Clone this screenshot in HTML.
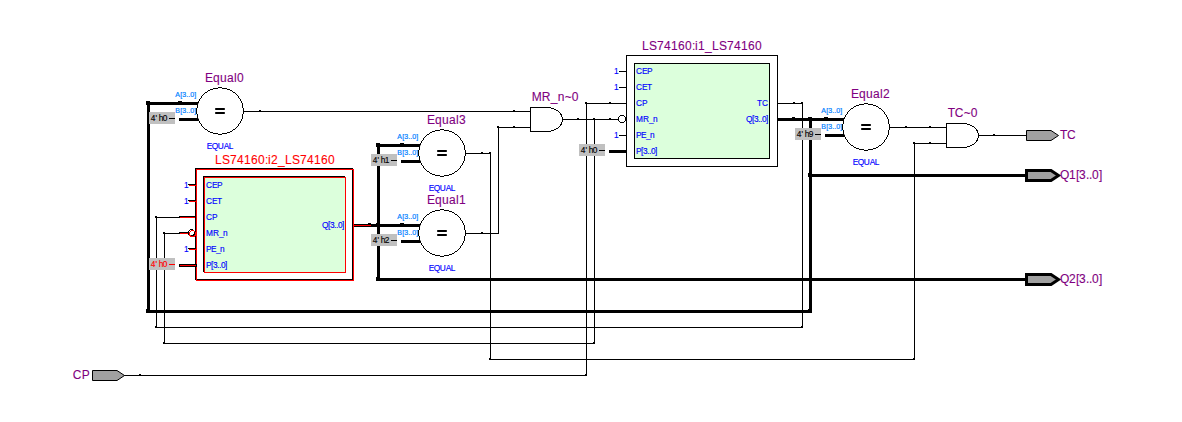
<!DOCTYPE html>
<html><head><meta charset="utf-8">
<style>
html,body{margin:0;padding:0;background:#fff;}
svg{display:block;font-family:"Liberation Sans",sans-serif;}
text{stroke-width:.15px}
.t{fill:#800080;stroke:#800080;font-size:12px;stroke-width:.1px}
.p{fill:#0000ff;stroke:#0000ff;font-size:8.3px}
.e{fill:#0000ff;stroke:#0000ff;font-size:8.3px}
.s{fill:#0080ff;stroke:#0080ff;font-size:7px;stroke-width:.2px}
.k{fill:#000;stroke:#000;font-size:8.3px;stroke-width:.15px}
</style></head><body>
<svg width="1182" height="422" viewBox="0 0 1182 422">
<rect width="1182" height="422" fill="#fff"/>
<rect x="244" y="111" width="287" height="1" fill="#000"/>
<rect x="124" y="375" width="463" height="1" fill="#000"/>
<rect x="586" y="103" width="1" height="273" fill="#000"/>
<rect x="586" y="103" width="41" height="1" fill="#000"/>
<rect x="156" y="217" width="41" height="1" fill="#000"/>
<rect x="156" y="217" width="1" height="111" fill="#000"/>
<rect x="156" y="327" width="647" height="1" fill="#000"/>
<rect x="802" y="103" width="1" height="225" fill="#000"/>
<rect x="778" y="103" width="25" height="1" fill="#000"/>
<rect x="164" y="233" width="25" height="1" fill="#000"/>
<rect x="164" y="233" width="1" height="111" fill="#000"/>
<rect x="164" y="343" width="431" height="1" fill="#000"/>
<rect x="594" y="119" width="1" height="225" fill="#000"/>
<rect x="563" y="119" width="58" height="1" fill="#000"/>
<rect x="466" y="153" width="25" height="1" fill="#000"/>
<rect x="490" y="153" width="1" height="207" fill="#000"/>
<rect x="490" y="359" width="425" height="1" fill="#000"/>
<rect x="914" y="143" width="1" height="217" fill="#000"/>
<rect x="914" y="143" width="33" height="1" fill="#000"/>
<rect x="466" y="233" width="33" height="1" fill="#000"/>
<rect x="498" y="127" width="1" height="107" fill="#000"/>
<rect x="498" y="127" width="33" height="1" fill="#000"/>
<rect x="890" y="127" width="57" height="1" fill="#000"/>
<rect x="979" y="135" width="48" height="1" fill="#000"/>
<rect x="778" y="118" width="66" height="3" fill="#000"/>
<rect x="809" y="119" width="3" height="194" fill="#000"/>
<rect x="147" y="310" width="665" height="3" fill="#000"/>
<rect x="147" y="102" width="3" height="211" fill="#000"/>
<rect x="147" y="102" width="52" height="3" fill="#000"/>
<rect x="810" y="174" width="217" height="3" fill="#000"/>
<rect x="377" y="144" width="3" height="137" fill="#000"/>
<rect x="377" y="144" width="44" height="3" fill="#000"/>
<rect x="377" y="224" width="44" height="3" fill="#000"/>
<rect x="377" y="278" width="650" height="3" fill="#000"/>
<rect x="146" y="101" width="4" height="4" fill="#000"/>
<rect x="376" y="143" width="4" height="4" fill="#000"/>
<rect x="376" y="277" width="4" height="4" fill="#000"/>
<rect x="808" y="117" width="4" height="4" fill="#000"/>
<rect x="808" y="173" width="4" height="4" fill="#000"/>
<rect x="376" y="223" width="4" height="4" fill="#000"/>
<rect x="146" y="309" width="4" height="4" fill="#000"/>
<rect x="808" y="309" width="4" height="4" fill="#000"/>
<rect x="792" y="117" width="3" height="1" fill="#000"/>
<rect x="179" y="118" width="20" height="3" fill="#000"/>
<circle cx="220" cy="111" r="23" fill="#fff"/>
<path transform="translate(220 111)" d="M-2 -24h4v1h-4zM-7 -23h5v1h-5zM2 -23h5v1h-5zM-10 -22h3v1h-3zM7 -22h3v1h-3zM-12 -21h2v1h-2zM10 -21h2v1h-2zM-13 -20h1v1h-1zM12 -20h1v1h-1zM-15 -19h2v1h-2zM13 -19h2v1h-2zM-16 -18h1v1h-1zM15 -18h1v1h-1zM-17 -17h1v1h-1zM16 -17h1v1h-1zM-18 -16h1v1h-1zM17 -16h1v1h-1zM-19 -15h1v1h-1zM18 -15h1v1h-1zM-19 -14h1v1h-1zM18 -14h1v1h-1zM-20 -13h1v1h-1zM19 -13h1v1h-1zM-21 -12h1v1h-1zM20 -12h1v1h-1zM-21 -11h1v1h-1zM20 -11h1v1h-1zM-22 -10h1v1h-1zM21 -10h1v1h-1zM-22 -9h1v1h-1zM21 -9h1v1h-1zM-23 -8h1v1h-1zM22 -8h1v1h-1zM-23 -7h1v1h-1zM22 -7h1v1h-1zM-23 -6h1v1h-1zM22 -6h1v1h-1zM-23 -5h1v1h-1zM22 -5h1v1h-1zM-23 -4h1v1h-1zM22 -4h1v1h-1zM-24 -3h1v1h-1zM23 -3h1v1h-1zM-24 -2h1v1h-1zM23 -2h1v1h-1zM-24 -1h1v1h-1zM23 -1h1v1h-1zM-24 0h1v1h-1zM23 0h1v1h-1zM-24 1h1v1h-1zM23 1h1v1h-1zM-24 2h1v1h-1zM23 2h1v1h-1zM-23 3h1v1h-1zM22 3h1v1h-1zM-23 4h1v1h-1zM22 4h1v1h-1zM-23 5h1v1h-1zM22 5h1v1h-1zM-23 6h1v1h-1zM22 6h1v1h-1zM-23 7h1v1h-1zM22 7h1v1h-1zM-22 8h1v1h-1zM21 8h1v1h-1zM-22 9h1v1h-1zM21 9h1v1h-1zM-21 10h1v1h-1zM20 10h1v1h-1zM-21 11h1v1h-1zM20 11h1v1h-1zM-20 12h1v1h-1zM19 12h1v1h-1zM-19 13h1v1h-1zM18 13h1v1h-1zM-19 14h1v1h-1zM18 14h1v1h-1zM-18 15h1v1h-1zM17 15h1v1h-1zM-17 16h1v1h-1zM16 16h1v1h-1zM-16 17h1v1h-1zM15 17h1v1h-1zM-15 18h2v1h-2zM13 18h2v1h-2zM-13 19h1v1h-1zM12 19h1v1h-1zM-12 20h2v1h-2zM10 20h2v1h-2zM-10 21h3v1h-3zM7 21h3v1h-3zM-7 22h5v1h-5zM2 22h5v1h-5zM-2 23h4v1h-4z" fill="#000" shape-rendering="crispEdges"/>
<rect x="215.2" y="108" width="9.6" height="2" fill="#000"/>
<rect x="215.2" y="112" width="9.6" height="2" fill="#000"/>
<text x="205 213 220 227 234 237" y="82" class="t" >Equal0</text>
<text x="175.2 180.2 182.2 186.2 188.2 190.2 194.2" y="97" class="s" >A[3..0]</text>
<text x="175.2 180.2 182.2 186.2 188.2 190.2 194.2" y="113" class="s" >B[3..0]</text>
<rect x="178" y="101" width="4" height="1" fill="#000"/>
<text x="206.7 211.7 217.7 223.7 228.7" y="149" class="e" >EQUAL</text>
<rect x="149" y="112" width="26" height="12" fill="#c0c0c0"/>
<text x="150.7 155.4 156.7 158.7 162.7" y="121" class="k" >4' h0</text>
<rect x="169" y="118" width="6" height="1" fill="#000"/>
<rect x="401" y="160" width="20" height="3" fill="#000"/>
<circle cx="442" cy="153" r="23" fill="#fff"/>
<path transform="translate(442 153)" d="M-2 -24h4v1h-4zM-7 -23h5v1h-5zM2 -23h5v1h-5zM-10 -22h3v1h-3zM7 -22h3v1h-3zM-12 -21h2v1h-2zM10 -21h2v1h-2zM-13 -20h1v1h-1zM12 -20h1v1h-1zM-15 -19h2v1h-2zM13 -19h2v1h-2zM-16 -18h1v1h-1zM15 -18h1v1h-1zM-17 -17h1v1h-1zM16 -17h1v1h-1zM-18 -16h1v1h-1zM17 -16h1v1h-1zM-19 -15h1v1h-1zM18 -15h1v1h-1zM-19 -14h1v1h-1zM18 -14h1v1h-1zM-20 -13h1v1h-1zM19 -13h1v1h-1zM-21 -12h1v1h-1zM20 -12h1v1h-1zM-21 -11h1v1h-1zM20 -11h1v1h-1zM-22 -10h1v1h-1zM21 -10h1v1h-1zM-22 -9h1v1h-1zM21 -9h1v1h-1zM-23 -8h1v1h-1zM22 -8h1v1h-1zM-23 -7h1v1h-1zM22 -7h1v1h-1zM-23 -6h1v1h-1zM22 -6h1v1h-1zM-23 -5h1v1h-1zM22 -5h1v1h-1zM-23 -4h1v1h-1zM22 -4h1v1h-1zM-24 -3h1v1h-1zM23 -3h1v1h-1zM-24 -2h1v1h-1zM23 -2h1v1h-1zM-24 -1h1v1h-1zM23 -1h1v1h-1zM-24 0h1v1h-1zM23 0h1v1h-1zM-24 1h1v1h-1zM23 1h1v1h-1zM-24 2h1v1h-1zM23 2h1v1h-1zM-23 3h1v1h-1zM22 3h1v1h-1zM-23 4h1v1h-1zM22 4h1v1h-1zM-23 5h1v1h-1zM22 5h1v1h-1zM-23 6h1v1h-1zM22 6h1v1h-1zM-23 7h1v1h-1zM22 7h1v1h-1zM-22 8h1v1h-1zM21 8h1v1h-1zM-22 9h1v1h-1zM21 9h1v1h-1zM-21 10h1v1h-1zM20 10h1v1h-1zM-21 11h1v1h-1zM20 11h1v1h-1zM-20 12h1v1h-1zM19 12h1v1h-1zM-19 13h1v1h-1zM18 13h1v1h-1zM-19 14h1v1h-1zM18 14h1v1h-1zM-18 15h1v1h-1zM17 15h1v1h-1zM-17 16h1v1h-1zM16 16h1v1h-1zM-16 17h1v1h-1zM15 17h1v1h-1zM-15 18h2v1h-2zM13 18h2v1h-2zM-13 19h1v1h-1zM12 19h1v1h-1zM-12 20h2v1h-2zM10 20h2v1h-2zM-10 21h3v1h-3zM7 21h3v1h-3zM-7 22h5v1h-5zM2 22h5v1h-5zM-2 23h4v1h-4z" fill="#000" shape-rendering="crispEdges"/>
<rect x="437.2" y="150" width="9.6" height="2" fill="#000"/>
<rect x="437.2" y="154" width="9.6" height="2" fill="#000"/>
<text x="427 435 442 449 456 459" y="124" class="t" >Equal3</text>
<text x="397.2 402.2 404.2 408.2 410.2 412.2 416.2" y="139" class="s" >A[3..0]</text>
<text x="397.2 402.2 404.2 408.2 410.2 412.2 416.2" y="155" class="s" >B[3..0]</text>
<rect x="400" y="143" width="4" height="1" fill="#000"/>
<text x="428.7 433.7 439.7 445.7 450.7" y="191" class="e" >EQUAL</text>
<rect x="371" y="154" width="26" height="12" fill="#c0c0c0"/>
<text x="372.7 377.4 378.7 380.7 384.7" y="163" class="k" >4' h1</text>
<rect x="391" y="160" width="6" height="1" fill="#000"/>
<rect x="401" y="240" width="20" height="3" fill="#000"/>
<circle cx="442" cy="233" r="23" fill="#fff"/>
<path transform="translate(442 233)" d="M-2 -24h4v1h-4zM-7 -23h5v1h-5zM2 -23h5v1h-5zM-10 -22h3v1h-3zM7 -22h3v1h-3zM-12 -21h2v1h-2zM10 -21h2v1h-2zM-13 -20h1v1h-1zM12 -20h1v1h-1zM-15 -19h2v1h-2zM13 -19h2v1h-2zM-16 -18h1v1h-1zM15 -18h1v1h-1zM-17 -17h1v1h-1zM16 -17h1v1h-1zM-18 -16h1v1h-1zM17 -16h1v1h-1zM-19 -15h1v1h-1zM18 -15h1v1h-1zM-19 -14h1v1h-1zM18 -14h1v1h-1zM-20 -13h1v1h-1zM19 -13h1v1h-1zM-21 -12h1v1h-1zM20 -12h1v1h-1zM-21 -11h1v1h-1zM20 -11h1v1h-1zM-22 -10h1v1h-1zM21 -10h1v1h-1zM-22 -9h1v1h-1zM21 -9h1v1h-1zM-23 -8h1v1h-1zM22 -8h1v1h-1zM-23 -7h1v1h-1zM22 -7h1v1h-1zM-23 -6h1v1h-1zM22 -6h1v1h-1zM-23 -5h1v1h-1zM22 -5h1v1h-1zM-23 -4h1v1h-1zM22 -4h1v1h-1zM-24 -3h1v1h-1zM23 -3h1v1h-1zM-24 -2h1v1h-1zM23 -2h1v1h-1zM-24 -1h1v1h-1zM23 -1h1v1h-1zM-24 0h1v1h-1zM23 0h1v1h-1zM-24 1h1v1h-1zM23 1h1v1h-1zM-24 2h1v1h-1zM23 2h1v1h-1zM-23 3h1v1h-1zM22 3h1v1h-1zM-23 4h1v1h-1zM22 4h1v1h-1zM-23 5h1v1h-1zM22 5h1v1h-1zM-23 6h1v1h-1zM22 6h1v1h-1zM-23 7h1v1h-1zM22 7h1v1h-1zM-22 8h1v1h-1zM21 8h1v1h-1zM-22 9h1v1h-1zM21 9h1v1h-1zM-21 10h1v1h-1zM20 10h1v1h-1zM-21 11h1v1h-1zM20 11h1v1h-1zM-20 12h1v1h-1zM19 12h1v1h-1zM-19 13h1v1h-1zM18 13h1v1h-1zM-19 14h1v1h-1zM18 14h1v1h-1zM-18 15h1v1h-1zM17 15h1v1h-1zM-17 16h1v1h-1zM16 16h1v1h-1zM-16 17h1v1h-1zM15 17h1v1h-1zM-15 18h2v1h-2zM13 18h2v1h-2zM-13 19h1v1h-1zM12 19h1v1h-1zM-12 20h2v1h-2zM10 20h2v1h-2zM-10 21h3v1h-3zM7 21h3v1h-3zM-7 22h5v1h-5zM2 22h5v1h-5zM-2 23h4v1h-4z" fill="#000" shape-rendering="crispEdges"/>
<rect x="437.2" y="230" width="9.6" height="2" fill="#000"/>
<rect x="437.2" y="234" width="9.6" height="2" fill="#000"/>
<text x="427 435 442 449 456 459" y="204" class="t" >Equal1</text>
<text x="397.2 402.2 404.2 408.2 410.2 412.2 416.2" y="219" class="s" >A[3..0]</text>
<text x="397.2 402.2 404.2 408.2 410.2 412.2 416.2" y="235" class="s" >B[3..0]</text>
<rect x="400" y="223" width="4" height="1" fill="#000"/>
<text x="428.7 433.7 439.7 445.7 450.7" y="271" class="e" >EQUAL</text>
<rect x="371" y="234" width="26" height="12" fill="#c0c0c0"/>
<text x="372.7 377.4 378.7 380.7 384.7" y="243" class="k" >4' h2</text>
<rect x="391" y="240" width="6" height="1" fill="#000"/>
<rect x="825" y="134" width="20" height="3" fill="#000"/>
<circle cx="866" cy="127" r="23" fill="#fff"/>
<path transform="translate(866 127)" d="M-2 -24h4v1h-4zM-7 -23h5v1h-5zM2 -23h5v1h-5zM-10 -22h3v1h-3zM7 -22h3v1h-3zM-12 -21h2v1h-2zM10 -21h2v1h-2zM-13 -20h1v1h-1zM12 -20h1v1h-1zM-15 -19h2v1h-2zM13 -19h2v1h-2zM-16 -18h1v1h-1zM15 -18h1v1h-1zM-17 -17h1v1h-1zM16 -17h1v1h-1zM-18 -16h1v1h-1zM17 -16h1v1h-1zM-19 -15h1v1h-1zM18 -15h1v1h-1zM-19 -14h1v1h-1zM18 -14h1v1h-1zM-20 -13h1v1h-1zM19 -13h1v1h-1zM-21 -12h1v1h-1zM20 -12h1v1h-1zM-21 -11h1v1h-1zM20 -11h1v1h-1zM-22 -10h1v1h-1zM21 -10h1v1h-1zM-22 -9h1v1h-1zM21 -9h1v1h-1zM-23 -8h1v1h-1zM22 -8h1v1h-1zM-23 -7h1v1h-1zM22 -7h1v1h-1zM-23 -6h1v1h-1zM22 -6h1v1h-1zM-23 -5h1v1h-1zM22 -5h1v1h-1zM-23 -4h1v1h-1zM22 -4h1v1h-1zM-24 -3h1v1h-1zM23 -3h1v1h-1zM-24 -2h1v1h-1zM23 -2h1v1h-1zM-24 -1h1v1h-1zM23 -1h1v1h-1zM-24 0h1v1h-1zM23 0h1v1h-1zM-24 1h1v1h-1zM23 1h1v1h-1zM-24 2h1v1h-1zM23 2h1v1h-1zM-23 3h1v1h-1zM22 3h1v1h-1zM-23 4h1v1h-1zM22 4h1v1h-1zM-23 5h1v1h-1zM22 5h1v1h-1zM-23 6h1v1h-1zM22 6h1v1h-1zM-23 7h1v1h-1zM22 7h1v1h-1zM-22 8h1v1h-1zM21 8h1v1h-1zM-22 9h1v1h-1zM21 9h1v1h-1zM-21 10h1v1h-1zM20 10h1v1h-1zM-21 11h1v1h-1zM20 11h1v1h-1zM-20 12h1v1h-1zM19 12h1v1h-1zM-19 13h1v1h-1zM18 13h1v1h-1zM-19 14h1v1h-1zM18 14h1v1h-1zM-18 15h1v1h-1zM17 15h1v1h-1zM-17 16h1v1h-1zM16 16h1v1h-1zM-16 17h1v1h-1zM15 17h1v1h-1zM-15 18h2v1h-2zM13 18h2v1h-2zM-13 19h1v1h-1zM12 19h1v1h-1zM-12 20h2v1h-2zM10 20h2v1h-2zM-10 21h3v1h-3zM7 21h3v1h-3zM-7 22h5v1h-5zM2 22h5v1h-5zM-2 23h4v1h-4z" fill="#000" shape-rendering="crispEdges"/>
<rect x="861.2" y="124" width="9.6" height="2" fill="#000"/>
<rect x="861.2" y="128" width="9.6" height="2" fill="#000"/>
<text x="851 859 866 873 880 883" y="98" class="t" >Equal2</text>
<text x="821.2 826.2 828.2 832.2 834.2 836.2 840.2" y="113" class="s" >A[3..0]</text>
<text x="821.2 826.2 828.2 832.2 834.2 836.2 840.2" y="129" class="s" >B[3..0]</text>
<rect x="824" y="117" width="4" height="1" fill="#000"/>
<text x="852.7 857.7 863.7 869.7 874.7" y="165" class="e" >EQUAL</text>
<rect x="795" y="128" width="26" height="12" fill="#c0c0c0"/>
<text x="796.7 801.4 802.7 804.7 808.7" y="137" class="k" >4' h9</text>
<rect x="815" y="134" width="6" height="1" fill="#000"/>
<rect x="626.5" y="55.5" width="151" height="111" fill="#fff" stroke="#000" shape-rendering="crispEdges"/>
<rect x="634.5" y="63.5" width="135" height="95" fill="#dcffdc" stroke="#000" shape-rendering="crispEdges"/>
<text x="642 649 657 664 671 678 685 692 695 698 705 712 719 727 734 741 748 755" y="50" class="t" style="fill:#800080;stroke:#800080">LS74160:i1_LS74160</text>
<text x="636 642 647" y="74" class="p" >CEP</text>
<rect x="619" y="71" width="7" height="1" fill="#000"/>
<text x="614" y="74" class="p" >1</text>
<text x="636 642 647" y="90" class="p" >CET</text>
<rect x="619" y="87" width="7" height="1" fill="#000"/>
<text x="614" y="90" class="p" >1</text>
<text x="636 642" y="106" class="p" >CP</text>
<text x="636 643 649 653" y="122" class="p" >MR_n</text>
<text x="636 641 646 650" y="138" class="p" >PE_n</text>
<rect x="619" y="135" width="7" height="1" fill="#000"/>
<text x="614" y="138" class="p" >1</text>
<text x="636 641 643 647 649 651 655" y="154" class="p" >P[3..0]</text>
<text x="757 762" y="106" class="p" >TC</text>
<text x="746 752 754 758 760 762 766" y="122" class="p" >Q[3..0]</text>
<rect x="609" y="150" width="18" height="3" fill="#000"/>
<rect x="579" y="144" width="26" height="12" fill="#c0c0c0"/>
<text x="580.7 585.4 586.7 588.7 592.7" y="153" class="k" >4' h0</text>
<rect x="599" y="150" width="6" height="1" fill="#000"/>
<circle cx="622" cy="119" r="3.5" fill="#fff" stroke="#000" shape-rendering="crispEdges"/>
<rect x="179" y="216" width="17" height="1" fill="#000"/>
<rect x="180" y="217" width="17" height="1" fill="#ff0000"/>
<rect x="179" y="232" width="9" height="1" fill="#000"/>
<rect x="180" y="233" width="9" height="1" fill="#ff0000"/>
<rect x="353" y="224" width="25" height="3" fill="#000"/>
<rect x="354" y="225" width="17" height="1" fill="#ff0000"/>
<rect x="368" y="223" width="3" height="1" fill="#000"/>
<rect x="195.5" y="168.5" width="157" height="111" fill="#fff" stroke="#000" shape-rendering="crispEdges"/>
<rect x="196.5" y="169.5" width="157" height="111" fill="none" stroke="#ff0000" shape-rendering="crispEdges"/>
<rect x="203.5" y="176.5" width="141" height="95" fill="none" stroke="#000" shape-rendering="crispEdges"/>
<rect x="204.5" y="177.5" width="141" height="95" fill="#dcffdc" stroke="#ff0000" shape-rendering="crispEdges"/>
<text x="215 222 230 237 244 251 258 265 268 271 278 285 292 300 307 314 321 328" y="164" class="t" style="fill:#ff0000;stroke:#ff0000">LS74160:i2_LS74160</text>
<text x="206 212 217" y="188" class="p" >CEP</text>
<rect x="188" y="184" width="7" height="1" fill="#000"/>
<rect x="189" y="185" width="7" height="1" fill="#ff0000"/>
<text x="184" y="188" class="p" >1</text>
<text x="206 212 217" y="204" class="p" >CET</text>
<rect x="188" y="200" width="7" height="1" fill="#000"/>
<rect x="189" y="201" width="7" height="1" fill="#ff0000"/>
<text x="184" y="204" class="p" >1</text>
<text x="206 212" y="220" class="p" >CP</text>
<text x="206 213 219 223" y="236" class="p" >MR_n</text>
<text x="206 211 216 220" y="252" class="p" >PE_n</text>
<rect x="188" y="248" width="7" height="1" fill="#000"/>
<rect x="189" y="249" width="7" height="1" fill="#ff0000"/>
<text x="184" y="252" class="p" >1</text>
<text x="206 211 213 217 219 221 225" y="268" class="p" >P[3..0]</text>
<text x="322 328 330 334 336 338 342" y="228.0" class="p" >Q[3..0]</text>
<rect x="179" y="264" width="18" height="3" fill="#000"/>
<rect x="180" y="265" width="16" height="1" fill="#ff0000"/>
<rect x="149" y="258" width="26" height="12" fill="#c0c0c0"/>
<text x="150.7 155.4 156.7 158.7 162.7" y="267" class="k" style="fill:#ff0000;stroke:#ff0000">4' h0</text>
<rect x="169" y="264" width="6" height="1" fill="#ff0000"/>
<circle cx="191.5" cy="232.5" r="3" fill="#fff" stroke="#000" shape-rendering="crispEdges"/>
<circle cx="192.5" cy="233.5" r="3" fill="none" stroke="#ff0000" shape-rendering="crispEdges"/>
<path d="M530.5 107.5H546.5A16 12 0 0 1 546.5 131.5H530.5Z" fill="#fff" stroke="#000" shape-rendering="crispEdges"/>
<text x="531.7 541.7 550.7 557.7 564.7 571.7" y="101" class="t" >MR_n~0</text>
<path d="M946.5 123.5H962.5A16 12 0 0 1 962.5 147.5H946.5Z" fill="#fff" stroke="#000" shape-rendering="crispEdges"/>
<text x="947.7 954.7 963.7 970.7" y="117" class="t" >TC~0</text>
<path d="M92.5 370.5H117L124.5 375.5L117 380.5H92.5Z" fill="#a0a0a0" stroke="#000" stroke-width="1"/>
<text x="72.7 81.7" y="379" class="t" >CP</text>
<path d="M1026.5 130.5H1051L1058.5 135.5L1051 140.5H1026.5Z" fill="#a0a0a0" stroke="#000" stroke-width="1"/>
<text x="1060 1067" y="139" class="t" >TC</text>
<path d="M1026.5 170.5H1051L1058.5 175.5L1051 180.5H1026.5Z" fill="#a0a0a0" stroke="#000" stroke-width="3"/>
<text x="1060 1069 1076 1079 1086 1089 1092 1099" y="179" class="t" >Q1[3..0]</text>
<path d="M1026.5 274.5H1051L1058.5 279.5L1051 284.5H1026.5Z" fill="#a0a0a0" stroke="#000" stroke-width="3"/>
<text x="1060 1069 1076 1079 1086 1089 1092 1099" y="283" class="t" >Q2[3..0]</text>
<rect x="259" y="110" width="2" height="1" fill="#000"/>
<rect x="513" y="110" width="2" height="1" fill="#000"/>
<rect x="513" y="126" width="2" height="1" fill="#000"/>
<rect x="577" y="118" width="2" height="1" fill="#000"/>
<rect x="609" y="102" width="2" height="1" fill="#000"/>
<rect x="609" y="118" width="2" height="1" fill="#000"/>
<rect x="139" y="374" width="2" height="1" fill="#000"/>
<rect x="905" y="126" width="2" height="1" fill="#000"/>
<rect x="929" y="126" width="2" height="1" fill="#000"/>
<rect x="929" y="142" width="2" height="1" fill="#000"/>
<rect x="993" y="134" width="2" height="1" fill="#000"/>
<rect x="793" y="102" width="2" height="1" fill="#000"/>
<rect x="481" y="152" width="2" height="1" fill="#000"/>
<rect x="481" y="232" width="2" height="1" fill="#000"/>
<rect x="585" y="102" width="2" height="2" fill="#000"/>
<rect x="593" y="118" width="2" height="2" fill="#000"/>
<rect x="155" y="216" width="2" height="2" fill="#000"/>
<rect x="163" y="232" width="2" height="2" fill="#000"/>
<rect x="489" y="152" width="2" height="2" fill="#000"/>
<rect x="801" y="102" width="2" height="2" fill="#000"/>
<rect x="913" y="142" width="2" height="2" fill="#000"/>
<rect x="497" y="126" width="2" height="2" fill="#000"/>
<rect x="593" y="342" width="2" height="2" fill="#000"/>
<rect x="489" y="358" width="2" height="2" fill="#000"/>
<rect x="585" y="374" width="2" height="2" fill="#000"/>
<rect x="801" y="326" width="2" height="2" fill="#000"/>
<rect x="913" y="358" width="2" height="2" fill="#000"/>
<rect x="155" y="326" width="2" height="2" fill="#000"/>
<rect x="163" y="342" width="2" height="2" fill="#000"/>
</svg>
</body></html>
